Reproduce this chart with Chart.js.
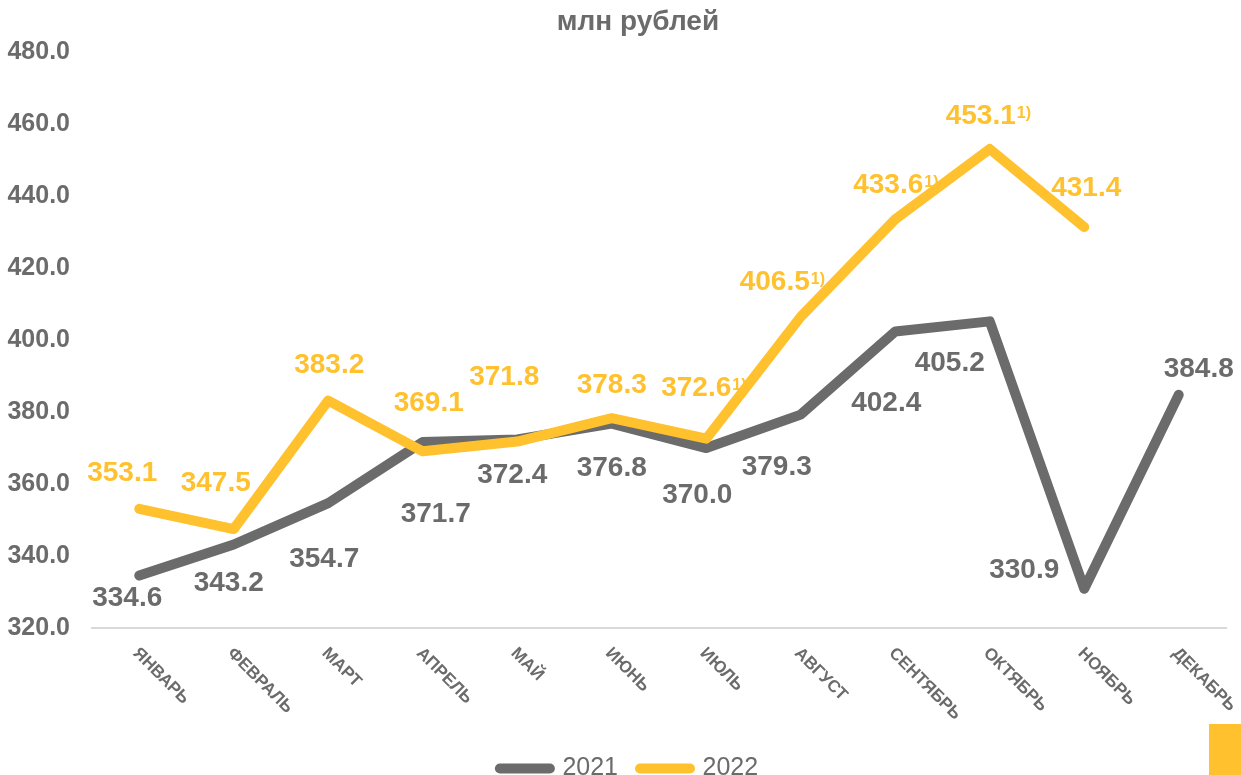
<!DOCTYPE html>
<html lang="ru">
<head>
<meta charset="utf-8">
<title>млн рублей</title>
<script src="https://cdn.jsdelivr.net/npm/chart.js@4.4.1/dist/chart.umd.min.js"></script>
<style>
  html, body { margin: 0; padding: 0; background: #fff; overflow: hidden; }
  #wrap { position: relative; width: 1241px; height: 775px; overflow: hidden; }
  #chartCanvas { display: block; }
  #logo { position: absolute; left: 1209px; top: 724px; width: 32px; height: 51px; background: #ffc12e; }
</style>
</head>
<body>
<div id="wrap">
  <canvas id="chartCanvas" width="1241" height="791"></canvas>
  <div id="logo"></div>
</div>
<script>
const months = ['ЯНВАРЬ', 'ФЕВРАЛЬ', 'МАРТ', 'АПРЕЛЬ', 'МАЙ', 'ИЮНЬ', 'ИЮЛЬ', 'АВГУСТ', 'СЕНТЯБРЬ', 'ОКТЯБРЬ', 'НОЯБРЬ', 'ДЕКАБРЬ'];
const values2021 = [334.6, 343.2, 354.7, 371.7, 372.4, 376.8, 370.0, 379.3, 402.4, 405.2, 330.9, 384.8];
const values2022 = [353.1, 347.5, 383.2, 369.1, 371.8, 378.3, 372.6, 406.5, 433.6, 453.1, 431.4, null];
const notes2022 = ['', '', '', '', '', '', '1)', '1)', '1)', '1)', '', ''];
const yMin = 320, yMax = 480, yStep = 20;

const GRAY = '#6b6b6b';
const YELLOW = '#ffc12e';
const FONT = '"Liberation Sans", Arial, sans-serif';

// where each value label sits, relative to its point (dx, dy)
const offsets2021 = [[-12, 23], [-5, 39], [-4, 56], [13, 72], [-5, 36], [0, 45], [-9, 47], [-24, 53], [-9, 72], [-40, 42], [-60, -18], [20, -26]];
const offsets2022 = [[-17, -36], [-18, -46], [1, -35], [6, -48], [-13, -64], [0, -33], [-10, -50], [-26, -34], [-7, -34], [-9, -33], [2, -39], [0, 0]];
const labelOffsets = [offsets2021, offsets2022];
const footnotes = [[], notes2022];

const valueLabels = {
    id: 'valueLabels',
    afterDatasetsDraw(chart) {
        const ctx = chart.ctx;
        ctx.save();
        chart.data.datasets.forEach((ds, di) => {
            const meta = chart.getDatasetMeta(di);
            meta.data.forEach((pt, i) => {
                const v = ds.data[i];
                if (v == null) return;
                const txt = v.toFixed(1);
                const x = pt.x + labelOffsets[di][i][0];
                const y = pt.y + labelOffsets[di][i][1];
                ctx.fillStyle = ds.borderColor;
                ctx.font = 'bold 28px ' + FONT;
                ctx.textAlign = 'center';
                ctx.textBaseline = 'middle';
                ctx.fillText(txt, x, y);
                const note = footnotes[di][i];
                if (note) {
                    const w = ctx.measureText(txt).width;
                    ctx.font = 'bold 16px ' + FONT;
                    ctx.textAlign = 'left';
                    ctx.textBaseline = 'alphabetic';
                    ctx.fillText(note, x + w / 2 + 1, y + 1.5);
                }
            });
        });
        ctx.restore();
    }
};

// month names run down to the right from each tick
const monthLabels = {
    id: 'monthLabels',
    afterDraw(chart) {
        const ctx = chart.ctx;
        const xs = chart.scales.x;
        ctx.save();
        ctx.font = 'bold 17px ' + FONT;
        ctx.fillStyle = GRAY;
        ctx.textAlign = 'left';
        ctx.textBaseline = 'alphabetic';
        months.forEach((m, i) => {
            ctx.save();
            ctx.translate(xs.getPixelForTick(i) - 7, xs.top + 26);
            ctx.rotate(Math.PI / 4);
            ctx.fillText(m, 0, 0);
            ctx.restore();
        });
        ctx.restore();
    }
};

// title and legend in the original sit a bit right of the canvas centre
const shiftBlocks = {
    id: 'shiftBlocks',
    afterLayout(chart) {
        if (chart.titleBlock) { chart.titleBlock.left += 25; chart.titleBlock.right += 25; }
        if (chart.legend) { chart.legend.left += 16; chart.legend.right += 16; }
    }
};

const ctx = document.getElementById('chartCanvas').getContext('2d');
const chart = new Chart(ctx, {
    type: 'line',
    data: {
        labels: months,
        datasets: [{
            label: '2021',
            data: values2021,
            borderColor: GRAY,
            backgroundColor: GRAY,
            borderWidth: 10,
            borderCapStyle: 'round',
            borderJoinStyle: 'round',
            pointRadius: 0,
            pointHoverRadius: 0,
            tension: 0,
            order: 2
        }, {
            label: '2022',
            data: values2022,
            borderColor: YELLOW,
            backgroundColor: YELLOW,
            borderWidth: 10,
            borderCapStyle: 'round',
            borderJoinStyle: 'round',
            pointRadius: 0,
            pointHoverRadius: 0,
            tension: 0,
            order: 1
        }]
    },
    options: {
        responsive: false,
        animation: false,
        layout: { padding: { left: 0, right: 15, top: 0, bottom: 0 } },
        plugins: {
            tooltip: { enabled: false },
            title: {
                display: true,
                text: 'млн рублей',
                color: GRAY,
                font: { family: FONT, size: 28, weight: 'bold' },
                padding: { top: 5, bottom: 13.6 }
            },
            legend: {
                position: 'bottom',
                labels: {
                    usePointStyle: true,
                    pointStyle: 'line',
                    pointStyleWidth: 50,
                    padding: 22,
                    color: GRAY,
                    font: { family: FONT, size: 25 },
                    sort: (a, b) => a.datasetIndex - b.datasetIndex,
                    generateLabels(chart) {
                        const items = Chart.defaults.plugins.legend.labels.generateLabels(chart);
                        items.forEach(it => {
                            const ds = chart.data.datasets[it.datasetIndex];
                            it.pointStyle = 'line';
                            it.lineWidth = 10;
                            it.lineCap = 'round';
                            it.strokeStyle = ds.borderColor;
                            it.fillStyle = ds.borderColor;
                        });
                        return items;
                    }
                }
            }
        },
        scales: {
            x: {
                offset: true,
                grid: { display: false, drawTicks: false },
                border: { display: true, color: '#d9d9d9', width: 2 },
                ticks: { display: false },
                afterFit(axis) { axis.height = 106; }
            },
            y: {
                min: yMin,
                max: yMax,
                grid: { display: false, drawTicks: false },
                border: { display: false },
                ticks: {
                    stepSize: yStep,
                    padding: 22,
                    color: GRAY,
                    font: { family: FONT, size: 25, weight: 'bold' },
                    callback: v => v.toFixed(1)
                },
                afterFit(axis) { axis.width = 92; }
            }
        }
    },
    plugins: [valueLabels, monthLabels, shiftBlocks]
});
</script>
</body>
</html>
